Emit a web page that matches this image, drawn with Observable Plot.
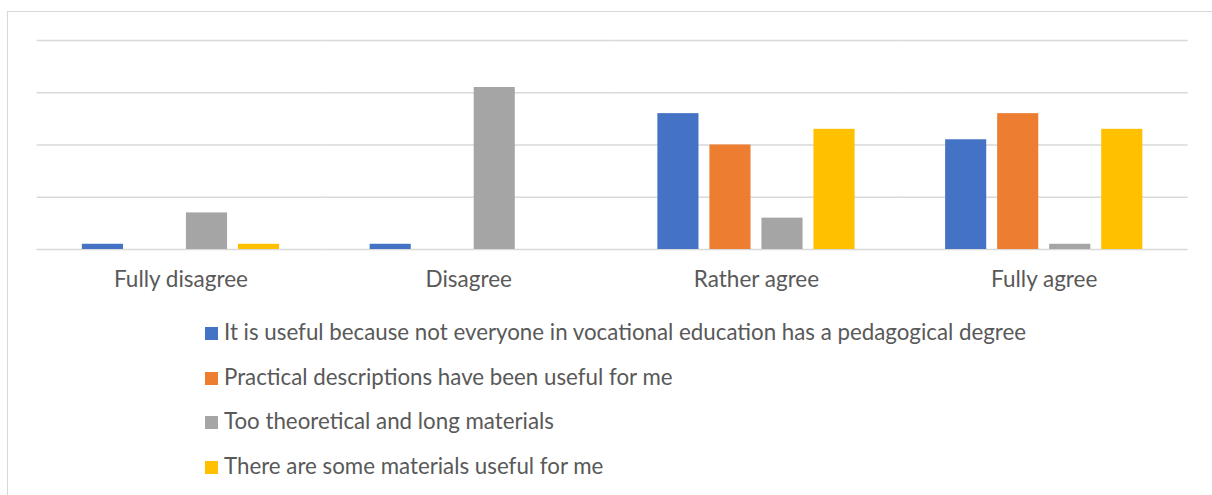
<!DOCTYPE html>
<html>
<head>
<meta charset="utf-8">
<script src="https://cdn.jsdelivr.net/npm/d3@7"></script>
<script src="https://cdn.jsdelivr.net/npm/@observablehq/plot@0.6"></script>
<style>
  html, body { margin: 0; padding: 0; background: #fff; }
  body { width: 1212px; height: 495px; position: relative; overflow: hidden; font-family: Lato, "Open Sans", sans-serif; }
  #frame { position: absolute; left: 7px; top: 11px; width: 1220px; height: 500px; border-left: 1.5px solid #d9d9d9; border-top: 1.5px solid #d9d9d9; }
  #chart { position: absolute; left: 0; top: 0; }
  #legend { position: absolute; left: 0; top: 0; }
  .sw { position: absolute; left: 205px; width: 13px; height: 13px; }
  .lbl { position: absolute; left: 224px; white-space: nowrap; font-size: 22.3px; line-height: 22.3px; color: #595959; }
</style>
</head>
<body>
<div id="frame"></div>
<div id="chart"></div>
<div id="legend"></div>
<script>
const categories = ["Fully disagree", "Disagree", "Rather agree", "Fully agree"];
const seriesNames = [
  "It is useful because not everyone in vocational education has a pedagogical degree",
  "Practical descriptions have been useful for me",
  "Too theoretical and long materials",
  "There are some materials useful for me"
];
const colors = ["#4472C4", "#ED7D31", "#A5A5A5", "#FFC000"];
const useful = [1, 1, 26, 21];
const practical = [0, 0, 20, 26];
const theoretical = [7, 31, 6, 1];
const someMaterials = [1, 0, 23, 23];
const yTicks = [0, 10, 20, 30, 40];

const seriesValues = [useful, practical, theoretical, someMaterials];
const data = [];
categories.forEach((c, i) => {
  seriesNames.forEach((s, j) => {
    data.push({category: c, series: s, value: seriesValues[j][i]});
  });
});

const plot = Plot.plot({
  width: 1212,
  height: 300,
  marginLeft: 36.6,
  marginRight: 24.4,
  marginTop: 40,
  marginBottom: 51,
  style: {fontFamily: "Lato, 'Open Sans', sans-serif", background: "transparent"},
  fx: {domain: categories, padding: 0, round: false, label: null},
  x: {domain: seriesNames, paddingInner: 0.21, paddingOuter: 0.87, round: false, axis: null},
  y: {domain: [0, 40], axis: null},
  color: {domain: seriesNames, range: colors},
  marks: [
    Plot.ruleY(yTicks, {stroke: "#d9d9d9", strokeWidth: 1.5, strokeOpacity: 1}),
    Plot.barY(data, {fx: "category", x: "series", y: "value", fill: "series"}),
    Plot.axisFx({anchor: "bottom", tickSize: 0, tickPadding: 22, fontSize: 22.5, fill: "#595959", label: null})
  ]
});
document.getElementById("chart").appendChild(plot);

const legend = document.getElementById("legend");
const baselines = [341, 386, 430, 474.5];
seriesNames.forEach((s, j) => {
  const sw = document.createElement("div");
  sw.className = "sw";
  sw.style.top = (baselines[j] - 14) + "px";
  sw.style.background = colors[j];
  legend.appendChild(sw);
  const lbl = document.createElement("div");
  lbl.className = "lbl";
  lbl.style.top = (baselines[j] - 19.8) + "px";
  lbl.textContent = s;
  legend.appendChild(lbl);
});
</script>
</body>
</html>
